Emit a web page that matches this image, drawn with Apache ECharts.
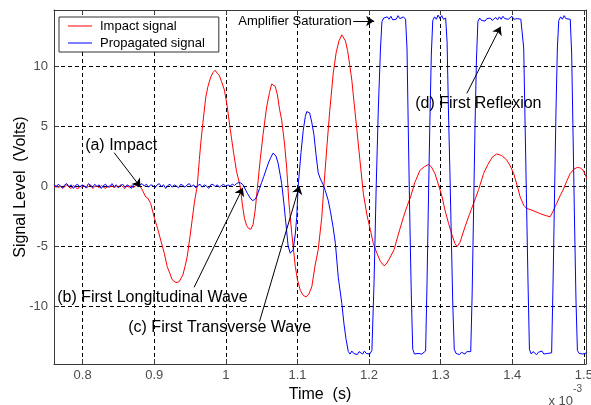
<!DOCTYPE html>
<html>
<head>
<meta charset="utf-8">
<script src="https://cdn.jsdelivr.net/npm/echarts@6/dist/echarts.min.js"></script>
<style>
  html, body { margin: 0; padding: 0; background: #fff; }
  #chart { width: 591px; height: 405px; }
</style>
</head>
<body>
<div id="chart"></div>
<script>
// Time is in milliseconds (axis shows "x 10^-3" seconds), signal in volts.
const seriesNames = ['Impact signal', 'Propagated signal'];
const seriesColors = ['#ff0000', '#0000ff'];

// Impact (hammer) signal, [time ms, volts]
const impactSignal = [
  [0.760,-0.10],[0.763,0.05],[0.766,-0.15],[0.769,0.00],[0.772,-0.20],[0.775,-0.05],[0.778,0.10],
  [0.781,-0.10],[0.784,-0.20],[0.787,0.05],[0.790,-0.10],[0.793,-0.25],[0.796,0.00],[0.799,-0.10],
  [0.802,0.05],[0.805,-0.15],[0.808,-0.05],[0.811,0.10],[0.814,-0.20],[0.817,-0.05],[0.820,0.00],
  [0.823,-0.15],[0.826,0.05],[0.829,-0.10],[0.832,-0.20],[0.835,0.00],[0.838,-0.10],[0.841,0.05],
  [0.844,-0.15],[0.847,0.00],[0.850,-0.10],[0.853,0.10],[0.856,-0.05],[0.859,-0.20],[0.862,0.00],
  [0.865,-0.10],[0.868,0.05],[0.871,-0.15],[0.874,0.05],[0.877,0.10],[0.880,0.00],
  [0.884,-0.40],[0.888,-0.90],[0.891,-1.00],[0.895,-1.45],[0.900,-2.60],[0.905,-3.60],[0.909,-4.50],
  [0.914,-5.60],[0.918,-6.70],[0.922,-7.30],[0.925,-7.80],[0.929,-8.00],[0.932,-8.05],[0.935,-7.95],
  [0.937,-8.05],[0.940,-7.40],[0.943,-6.70],[0.946,-5.90],[0.950,-4.20],[0.953,-2.80],[0.956,-1.40],
  [0.960,0.00],[0.963,2.20],[0.965,3.60],[0.968,5.30],[0.972,7.40],[0.975,8.30],[0.979,9.10],
  [0.982,9.45],[0.985,9.65],[0.988,9.40],[0.991,9.20],[0.994,8.70],[0.998,8.00],[1.002,6.60],
  [1.006,4.80],[1.011,2.70],[1.015,1.20],[1.020,0.00],[1.023,-1.50],[1.026,-2.70],[1.029,-3.30],
  [1.032,-3.55],[1.035,-3.60],[1.038,-3.20],[1.041,-2.00],[1.044,-0.20],[1.048,2.20],[1.052,4.30],
  [1.057,6.60],[1.061,7.80],[1.064,8.50],[1.066,8.55],[1.069,8.30],[1.072,7.60],[1.075,6.40],
  [1.078,5.50],[1.082,3.50],[1.085,1.50],[1.088,-1.30],[1.092,-3.90],[1.097,-6.70],[1.100,-7.80],
  [1.104,-8.70],[1.108,-9.10],[1.112,-9.25],[1.116,-9.00],[1.120,-8.40],[1.125,-6.50],[1.129,-5.30],
  [1.134,-2.60],[1.137,0.00],[1.141,3.20],[1.145,6.20],[1.150,9.40],[1.154,11.10],[1.158,12.10],
  [1.162,12.60],[1.164,12.55],[1.167,12.10],[1.170,11.30],[1.173,10.10],[1.176,8.80],[1.179,7.00],
  [1.183,4.70],[1.187,2.30],[1.192,-0.60],[1.197,-2.40],[1.202,-3.70],[1.206,-4.80],[1.211,-5.60],
  [1.216,-6.30],[1.221,-6.65],[1.224,-6.50],[1.228,-6.10],[1.235,-5.30],[1.241,-4.00],[1.248,-2.60],
  [1.253,-1.70],[1.258,-0.90],[1.264,0.30],[1.271,1.30],[1.277,1.60],[1.283,1.80],[1.287,1.60],
  [1.292,1.05],[1.297,0.10],[1.302,-0.90],[1.306,-2.00],[1.311,-3.10],[1.316,-4.10],[1.320,-4.80],
  [1.323,-5.05],[1.327,-4.70],[1.334,-3.40],[1.340,-2.40],[1.346,-1.44],[1.353,-0.30],[1.360,1.05],
  [1.366,1.80],[1.372,2.40],[1.378,2.67],[1.385,2.55],[1.392,2.20],[1.397,1.70],[1.402,1.05],
  [1.407,0.00],[1.411,-0.90],[1.416,-1.60],[1.420,-1.86],[1.427,-2.00],[1.433,-2.15],[1.439,-2.30],
  [1.446,-2.45],[1.453,-2.56],[1.457,-2.10],[1.462,-1.44],[1.467,-0.80],[1.471,-0.33],[1.476,0.40],
  [1.481,1.05],[1.486,1.40],[1.491,1.56],[1.495,1.50],[1.499,1.33],[1.504,0.67]
];

// Signal picked up by the receiving sensor, [time ms, volts]
const propagatedSignal = [
  [0.760,0.10],[0.763,-0.10],[0.766,0.15],[0.769,0.00],[0.772,-0.15],[0.775,0.10],[0.778,0.20],
  [0.781,-0.05],[0.784,0.10],[0.787,-0.20],[0.790,0.05],[0.793,0.15],[0.796,-0.10],[0.799,0.10],
  [0.802,0.00],[0.805,-0.15],[0.808,0.20],[0.811,0.05],[0.814,-0.10],[0.817,0.15],[0.820,-0.05],
  [0.823,0.10],[0.826,-0.20],[0.829,0.05],[0.832,0.15],[0.835,-0.10],[0.838,0.00],[0.841,0.20],
  [0.844,-0.05],[0.847,0.10],[0.850,-0.15],[0.853,0.05],[0.856,0.15],[0.859,-0.10],[0.862,0.10],
  [0.865,0.00],[0.868,-0.20],[0.871,0.10],[0.874,0.15],[0.877,-0.05],[0.880,0.10],[0.883,0.20],
  [0.886,0.00],[0.889,0.15],[0.892,-0.10],[0.895,0.10],[0.898,0.05],[0.901,-0.15],[0.904,0.10],
  [0.907,0.20],[0.910,-0.05],[0.913,0.10],[0.916,-0.20],[0.919,0.05],[0.922,0.15],[0.925,-0.10],
  [0.928,0.10],[0.931,0.00],[0.934,-0.15],[0.937,0.15],[0.940,0.05],[0.943,-0.10],[0.946,0.10],
  [0.949,0.20],[0.952,-0.05],[0.955,0.10],[0.958,-0.15],[0.961,0.05],[0.964,0.15],[0.967,-0.10],
  [0.970,0.10],[0.973,0.00],[0.976,-0.20],[0.979,0.10],[0.982,0.15],[0.985,-0.05],[0.988,0.10],
  [0.991,-0.10],[0.994,0.05],[0.997,0.15],[1.000,-0.05],[1.003,0.10],[1.006,0.00],[1.009,0.15],
  [1.012,0.05],[1.015,0.20],[1.018,0.30],
  [1.021,0.25],[1.024,0.10],[1.027,-0.25],[1.030,-0.60],[1.034,-1.00],[1.037,-1.20],[1.040,-1.15],
  [1.043,-0.90],[1.047,-0.20],[1.050,0.30],[1.053,0.80],[1.057,1.50],[1.060,2.00],[1.063,2.40],
  [1.066,2.75],[1.068,2.70],[1.070,2.50],[1.073,1.90],[1.076,0.90],[1.078,0.20],[1.081,-1.40],
  [1.083,-2.60],[1.087,-5.00],[1.090,-5.60],[1.092,-5.50],[1.094,-5.30],[1.097,-4.00],[1.099,-2.60],
  [1.101,0.00],[1.105,2.80],[1.108,4.60],[1.111,5.80],[1.113,6.20],[1.115,6.35],[1.117,6.10],
  [1.120,5.30],[1.123,4.30],[1.126,2.60],[1.129,1.10],[1.132,0.60],[1.136,0.10],[1.139,-0.40],
  [1.143,-1.20],[1.146,-2.10],[1.150,-3.50],[1.153,-4.80],[1.157,-7.60],[1.162,-9.80],[1.165,-11.50],
  [1.168,-12.80],[1.171,-13.80],
  [1.1735,-14.00],[1.176,-13.75],[1.1785,-13.95],[1.181,-13.85],[1.1835,-14.05],[1.186,-13.80],
  [1.1885,-13.90],[1.191,-14.00],[1.1935,-13.75],[1.196,-13.95],[1.1985,-13.85],[1.201,-14.00],
  [1.204,-13.70],[1.207,-8.00],[1.210,0.00],[1.213,6.50],[1.216,11.50],[1.218,13.70],
  [1.2205,14.00],[1.223,13.85],[1.2255,14.10],[1.228,13.90],[1.2305,14.15],[1.233,13.85],
  [1.2355,14.00],[1.238,13.90],[1.2405,14.20],[1.243,13.95],[1.2455,13.85],[1.248,14.10],
  [1.251,13.90],[1.253,11.50],[1.255,4.00],[1.257,-3.00],[1.259,-9.00],[1.261,-13.60],
  [1.2635,-14.00],[1.266,-13.85],[1.2685,-13.95],[1.271,-13.80],[1.2735,-14.00],[1.276,-13.85],
  [1.279,-13.75],[1.281,-8.00],[1.283,-1.00],[1.285,5.50],[1.287,11.00],[1.289,13.80],
  [1.2915,14.10],[1.294,13.90],[1.2965,14.25],[1.299,13.95],[1.3015,14.20],[1.304,13.90],
  [1.307,14.00],[1.309,12.00],[1.311,6.00],[1.313,1.00],[1.315,-4.50],[1.317,-10.00],[1.319,-13.60],
  [1.3215,-13.95],[1.324,-13.80],[1.3265,-14.05],[1.329,-13.85],[1.3315,-13.90],[1.334,-14.00],
  [1.3365,-13.80],[1.339,-13.95],[1.342,-13.80],[1.344,-9.00],[1.346,-2.00],[1.348,5.00],
  [1.350,10.50],[1.352,13.70],
  [1.3545,14.00],[1.357,13.80],[1.3595,13.90],[1.362,13.75],[1.3645,13.95],[1.367,13.85],
  [1.3695,14.00],[1.372,13.80],[1.3745,13.95],[1.377,14.05],[1.3795,13.85],[1.382,14.10],
  [1.3845,13.90],[1.387,14.15],[1.3895,13.95],[1.392,14.10],[1.3945,13.90],[1.397,14.00],
  [1.3995,14.15],[1.402,13.90],[1.4045,14.05],[1.407,13.95],[1.4095,14.10],[1.412,13.90],
  [1.414,14.00],[1.416,11.50],[1.418,5.00],[1.420,-1.50],[1.422,-8.00],[1.424,-13.60],
  [1.4265,-14.00],[1.429,-13.80],[1.4315,-13.95],[1.434,-14.05],[1.4365,-13.85],[1.439,-13.95],
  [1.4415,-13.75],[1.444,-14.00],[1.4465,-13.85],[1.449,-13.95],[1.4515,-13.80],[1.455,-13.90],
  [1.457,-8.00],[1.459,-1.00],[1.461,6.00],[1.463,11.50],[1.465,13.80],
  [1.4675,14.10],[1.470,13.90],[1.4725,14.20],[1.475,13.95],[1.4775,14.05],[1.481,13.90],
  [1.483,11.00],[1.485,4.00],[1.487,-3.00],[1.489,-9.50],[1.491,-13.70],
  [1.4935,-13.95],[1.496,-13.80],[1.4985,-14.00],[1.501,-13.85],[1.504,-13.90]
];

const timeRange = [0.76, 1.503];
const voltRange = [-14.83, 14.67];

// Callouts: label anchor (left-middle), arrow tail and arrow head, all in data space
const callouts = [
  { text: '(a) Impact', label: [0.8035, 3.33], tail: [0.844, 2.78], head: [0.8808, -0.08], size: 16 },
  { text: '(b) First Longitudinal Wave', label: [0.7644, -9.3], tail: [0.9557, -8.44], head: [1.0237, -0.15], size: 16 },
  { text: '(c) First Transverse Wave', label: [0.8637, -11.8], tail: [1.047, -11.3], head: [1.1028, 0.0], size: 16 },
  { text: '(d) First Reflexion', label: [1.2645, 6.83], tail: [1.3366, 7.72], head: [1.3837, 13.28], size: 16 },
  { text: 'Amplifier Saturation', label: [1.0175, 13.75], tail: [1.1778, 13.75], head: [1.2071, 13.75], size: 13 }
];

const FONT = 'Liberation Sans, Arial, Helvetica, sans-serif';
const AXIS_COLOR = '#3a3a3a';
const LABEL_COLOR = '#4d4d4d';
// Legend key: a thin horizontal stroke centred in a 24x13 box (half-pixel offset for a soft line)
const LEGEND_KEY = 'path://M0,0h0.01v0.01h-0.01z M0,5.5h24v1h-24z M23.99,12.99h0.01v0.01h-0.01z';

function valueAxis(position, range, split, opts) {
  return Object.assign({
    type: 'value',
    position: position,
    min: range[0],
    max: range[1],
    splitNumber: split,
    nameMoveOverlap: false,
    axisLine: { show: true, onZero: false, lineStyle: { color: AXIS_COLOR, width: 1 } },
    axisTick: { show: true, inside: true, length: 5, lineStyle: { color: AXIS_COLOR } },
    axisLabel: { show: false },
    splitLine: { show: false }
  }, opts);
}

const gridLine = { show: true, showMinLine: false, showMaxLine: false,
  lineStyle: { color: '#000', width: 1, type: [4, 3] } };

const chart = echarts.init(document.getElementById('chart'), null, { renderer: 'canvas' });

chart.setOption({
  animation: false,
  backgroundColor: '#fff',
  grid: { left: 54, right: 5, top: 10, bottom: 41, containLabel: false, outerBoundsMode: 'none' },
  legend: {
    data: seriesNames.map((n, i) => ({
      name: n,
      icon: LEGEND_KEY,
      itemStyle: { color: seriesColors[i], borderColor: seriesColors[i], borderWidth: 0, opacity: 1 },
      lineStyle: { color: seriesColors[i], width: 1, opacity: 1 }
    })),
    orient: 'vertical',
    left: 59,
    top: 17,
    selectedMode: false,
    itemWidth: 24,
    itemHeight: 13,
    itemGap: 4,
    padding: [3, 14, 2, 9],
    backgroundColor: '#fff',
    borderColor: '#333',
    borderWidth: 1,
    borderRadius: 0,
    textStyle: { fontFamily: FONT, fontSize: 13, lineHeight: 13, color: '#000', padding: [0, 0, 0, 3] }
  },
  xAxis: [
    valueAxis('bottom', timeRange, 8, {
      name: 'Time  (s)',
      nameLocation: 'middle',
      nameGap: 23,
      nameTextStyle: { fontFamily: FONT, fontSize: 16, color: '#000' },
      axisLabel: { show: true, showMinLabel: false, showMaxLabel: false, margin: 5,
        fontFamily: FONT, fontSize: 13, color: LABEL_COLOR },
      splitLine: gridLine
    }),
    valueAxis('top', timeRange, 8, {})
  ],
  yAxis: [
    valueAxis('left', voltRange, 6, {
      name: 'Signal Level  (Volts)',
      nameLocation: 'middle',
      nameGap: 25,
      nameTextStyle: { fontFamily: FONT, fontSize: 16, color: '#000' },
      axisLabel: { show: true, showMinLabel: false, showMaxLabel: false, margin: 6,
        fontFamily: FONT, fontSize: 13, color: LABEL_COLOR },
      splitLine: gridLine
    }),
    valueAxis('right', voltRange, 6, {})
  ],
  series: [
    {
      name: seriesNames[0],
      type: 'line',
      data: impactSignal,
      xAxisIndex: 0, yAxisIndex: 0,
      showSymbol: false, symbol: 'none',
      lineStyle: { color: seriesColors[0], width: 1 },
      itemStyle: { color: seriesColors[0], borderColor: seriesColors[0] },
      silent: true
    },
    {
      name: seriesNames[1],
      type: 'line',
      data: propagatedSignal,
      xAxisIndex: 0, yAxisIndex: 0,
      showSymbol: false, symbol: 'none',
      lineStyle: { color: seriesColors[1], width: 1 },
      itemStyle: { color: seriesColors[1], borderColor: seriesColors[1] },
      silent: true
    },
    {
      // Callout arrows (not listed in the legend)
      name: 'callouts',
      type: 'line',
      data: [],
      xAxisIndex: 0, yAxisIndex: 0,
      silent: true,
      markLine: {
        silent: true,
        animation: false,
        symbol: ['none', 'arrow'],
        symbolSize: 8,
        label: { show: false },
        emphasis: { disabled: true },
        lineStyle: { color: '#000', width: 1, type: 'solid' },
        itemStyle: { color: '#000' },
        data: callouts.map(c => [{ coord: c.tail }, { coord: c.head }])
      }
    }
  ]
});

// Callout texts, anchored in data space
const calloutText = callouts.map(c => {
  const p = chart.convertToPixel({ gridIndex: 0 }, c.label);
  return {
    type: 'text',
    x: p[0], y: p[1],
    silent: true,
    z: 50,
    style: { text: c.text, fontFamily: FONT, fontSize: c.size, fill: '#000',
      align: 'left', verticalAlign: 'middle' }
  };
});

// Axis multiplier "x 10^-3" below the lower right corner
const multiplier = [
  { type: 'text', right: 18, top: 395, silent: true,
    style: { text: 'x 10', fontFamily: FONT, fontSize: 13, fill: LABEL_COLOR } },
  { type: 'text', right: 9, top: 384, silent: true,
    style: { text: '-3', fontFamily: FONT, fontSize: 10, fill: LABEL_COLOR } }
];

chart.setOption({ graphic: calloutText.concat(multiplier) });
</script>
</body>
</html>
